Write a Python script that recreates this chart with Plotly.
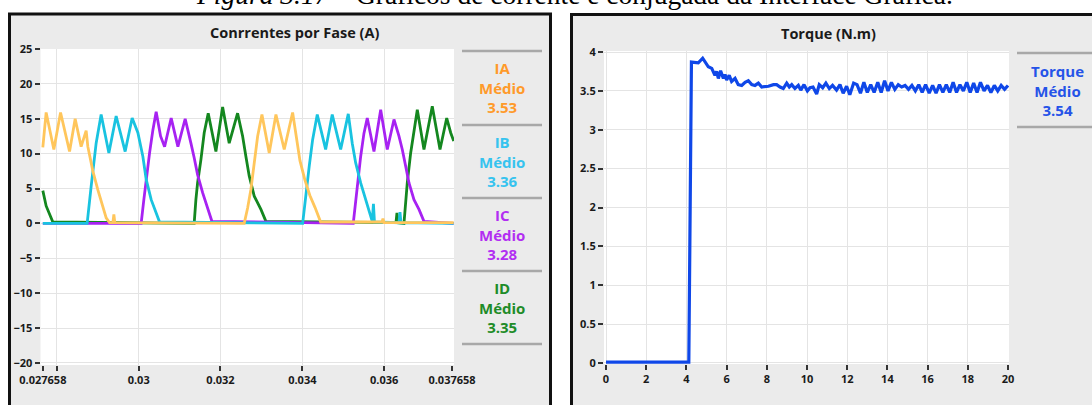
import plotly.graph_objects as go

# ---------------- data ----------------
ia_t = [0.027658, 0.027739, 0.027927, 0.028091, 0.028311, 0.028448, 0.028594, 0.028717, 0.028758,
        0.028881, 0.029003, 0.029101, 0.029206, 0.029289, 0.029370, 0.029394, 0.029418,
        0.032580, 0.032663, 0.032744, 0.032825, 0.032908, 0.033013, 0.033191, 0.033355, 0.033558,
        0.033763, 0.033844, 0.033942, 0.034064, 0.034185, 0.034309, 0.034448, 0.035947, 0.035971,
        0.035996, 0.037700]
ia_v = [10.9, 15.9, 10.6, 15.9, 10.3, 15.0, 11.0, 13.3, 11.0,
        7.5, 4.8, 3.0, 0.8, 0.1, 0.1, 1.3, 0.1,
        0.0, 2.2, 4.9, 8.5, 12.5, 15.6, 10.1, 15.6, 10.6,
        15.9, 12.5, 9.0, 6.2, 4.0, 2.3, 0.2, 0.2, 0.7,
        0.1, 0.1]

ib_t = [0.027658, 0.028741, 0.028839, 0.028961, 0.029083, 0.029272, 0.029450, 0.029670, 0.029841,
        0.029981, 0.030103, 0.030184, 0.030306, 0.030428, 0.030511,
        0.034008, 0.034088, 0.034169, 0.034252, 0.034365, 0.034570, 0.034731, 0.034937, 0.035123,
        0.035220, 0.035303, 0.035426, 0.035548, 0.035629, 0.035709, 0.035738, 0.035763,
        0.036362, 0.036387, 0.036411, 0.037700]
ib_v = [0.0, 0.0, 5.3, 11.5, 15.6, 10.1, 15.4, 10.3, 15.1,
        13.0, 9.6, 6.3, 3.4, 1.6, 0.2,
        0.0, 4.4, 8.2, 12.0, 15.6, 10.6, 15.6, 10.6, 15.7,
        11.5, 8.7, 5.8, 3.4, 1.8, 0.3, 2.8, 0.2,
        0.1, 1.6, 0.1, 0.0]

ic_t = [0.027658, 0.030061, 0.030127, 0.030184, 0.030267, 0.030348, 0.030428, 0.030536, 0.030634,
        0.030795, 0.030959, 0.031137, 0.031196, 0.031277, 0.031357, 0.031440, 0.031563, 0.031685,
        0.031790, 0.035245, 0.035303, 0.035360, 0.035426, 0.035506, 0.035587, 0.035751, 0.035915,
        0.036076, 0.036240, 0.036362, 0.036443, 0.036526, 0.036607, 0.036729, 0.036851, 0.036973,
        0.037700]
ic_v = [0.0, 0.0, 3.4, 6.3, 10.1, 13.4, 16.0, 12.5, 11.0,
        15.1, 11.0, 15.0, 13.7, 11.5, 9.4, 7.0, 4.4, 2.0,
        0.3, 0.0, 3.4, 6.3, 9.6, 12.9, 15.1, 10.3, 16.3,
        10.6, 14.9, 12.5, 10.6, 8.2, 5.8, 3.4, 2.0, 0.3,
        0.0]

id_t = [0.027658, 0.027739, 0.027903, 0.031357, 0.031399, 0.031440, 0.031521, 0.031602, 0.031700,
        0.031888, 0.032052, 0.032213, 0.032418, 0.032541, 0.032621, 0.032702, 0.032825, 0.032988,
        0.033110, 0.036289, 0.036313, 0.036338, 0.036484, 0.036526, 0.036565, 0.036648, 0.036729,
        0.036810, 0.036973, 0.037176, 0.037365, 0.037529, 0.037626, 0.037700]
id_v = [4.7, 2.5, 0.2, 0.0, 3.4, 5.8, 9.1, 13.0, 15.8,
        10.3, 16.7, 11.5, 15.8, 12.5, 9.6, 6.8, 3.9, 2.0,
        0.3, 0.1, 1.5, 0.1, 0.0, 3.4, 5.8, 10.1, 13.4,
        16.3, 10.6, 16.8, 10.6, 15.1, 13.0, 11.8]

torque_t = [0.0, 4.12, 4.25, 4.45, 4.59, 4.81, 4.93, 5.09, 5.26, 5.42, 5.5, 5.59, 5.70, 5.84,
            5.92, 6.0, 6.13, 6.25, 6.42, 6.58, 6.75, 6.92, 7.08, 7.25, 7.41, 7.58, 7.75, 7.91,
            8.08, 8.33, 8.49, 8.66, 8.82, 8.99, 9.12, 9.24, 9.4, 9.57, 9.69, 9.85, 10.02, 10.15,
            10.3, 10.48, 10.61, 10.78, 10.94, 11.11, 11.27, 11.47, 11.64, 11.8, 11.97, 12.13,
            12.32, 12.49, 12.66, 12.83, 13.0, 13.17, 13.34, 13.52, 13.69, 13.86, 14.03, 14.2,
            14.37, 14.54, 14.71, 14.88, 15.05, 15.22, 15.39, 15.56, 15.73, 15.9, 16.08, 16.25,
            16.42, 16.59, 16.76, 16.93, 17.1, 17.27, 17.44, 17.61, 17.78, 17.95, 18.12, 18.29,
            18.46, 18.63, 18.81, 18.98, 19.15, 19.32, 19.49, 19.66, 19.83, 20.0]
torque_v = [0.01, 0.01, 3.87, 3.86, 3.86, 3.92, 3.88, 3.81, 3.79, 3.70, 3.75, 3.66, 3.76, 3.66,
            3.71, 3.64, 3.70, 3.62, 3.66, 3.58, 3.57, 3.61, 3.63, 3.58, 3.57, 3.60, 3.55, 3.55,
            3.56, 3.58, 3.58, 3.55, 3.53, 3.60, 3.55, 3.58, 3.53, 3.57, 3.51, 3.58, 3.50, 3.54,
            3.55, 3.46, 3.58, 3.54, 3.60, 3.53, 3.57, 3.51, 3.58, 3.47, 3.56, 3.45,
            3.60, 3.58, 3.47, 3.61, 3.48, 3.58, 3.48, 3.61, 3.48, 3.63, 3.50, 3.61,
            3.52, 3.58, 3.55, 3.57, 3.52, 3.57, 3.50, 3.58, 3.48, 3.58, 3.47, 3.57,
            3.47, 3.58, 3.48, 3.58, 3.48, 3.61, 3.48, 3.58, 3.50, 3.61, 3.48, 3.60,
            3.48, 3.61, 3.50, 3.57, 3.48, 3.57, 3.50, 3.57, 3.52, 3.57]

cur_xticks = [0.027658, 0.028, 0.030, 0.032, 0.034, 0.036, 0.037658]
cur_xlabels = ["0.027658", "", "0.03", "0.032", "0.034", "0.036", "0.037658"]
cur_xgrid = [0.028, 0.030, 0.032, 0.034, 0.036]
cur_yticks = [25, 20, 15, 10, 5, 0, -5, -10, -15, -20]

legend_names = ["IA", "IB", "IC", "ID"]
legend_means = ["3.53", "3.36", "3.28", "3.35"]
torque_mean = "3.54"

# ---------------- styling ----------------
W, H = 1092, 405
def fx(px): return px / W
def fy(py): return 1 - py / H

line_cols = {"IA": "#FFC65C", "IB": "#19C3E0", "IC": "#A722F2", "ID": "#14871F"}
text_cols = {"IA": "#FF9A2A", "IB": "#36C3EF", "IC": "#B22EF2", "ID": "#1E8C28"}
TORQUE_COL = "#0F47E8"
TORQUE_TXT = "#2553E8"
GRID = "#e4e4e4"
FONT = "Open Sans"
tickfont = dict(family=FONT, size=11, color="#1a1a1a", weight="bold")

fig = go.Figure()
series = {"IA": (ia_t, ia_v), "IB": (ib_t, ib_v), "IC": (ic_t, ic_v), "ID": (id_t, id_v)}
for name in ["ID", "IC", "IB", "IA"]:
    t, v = series[name]
    fig.add_trace(go.Scatter(x=t, y=v, mode="lines", name=name,
                             line=dict(color=line_cols[name], width=2.8),
                             xaxis="x", yaxis="y", showlegend=False))
fig.add_trace(go.Scatter(x=torque_t, y=torque_v, mode="lines", name="Torque",
                         line=dict(color=TORQUE_COL, width=3.2),
                         xaxis="x2", yaxis="y2", showlegend=False))

common = dict(ticks="outside", ticklen=5, tickwidth=1.5, tickcolor="#333333",
              showline=False, zeroline=False, tickfont=tickfont)

fig.update_layout(
    autosize=True, margin=dict(l=0, r=0, t=0, b=0, autoexpand=False),
    paper_bgcolor="white", plot_bgcolor="rgba(0,0,0,0)",
    xaxis=dict(domain=[fx(40.5), fx(454)], range=[0.027601, 0.037707],
               tickmode="array", tickvals=cur_xticks, ticktext=cur_xlabels,
               showgrid=False, anchor="y",
               minor=dict(tickmode="array", tickvals=cur_xgrid, showgrid=True,
                          gridcolor=GRID, gridwidth=1, ticks=""), **common),
    yaxis=dict(domain=[fy(365), fy(49)], range=[-20.3, 25], anchor="x",
               tickmode="array", tickvals=cur_yticks, showgrid=True,
               gridcolor=GRID, gridwidth=1, **common),
    xaxis2=dict(domain=[fx(604), fx(1009)], range=[-0.1, 20.05], anchor="y2",
                dtick=2, tick0=0, showgrid=True, gridcolor=GRID, gridwidth=1, **common),
    yaxis2=dict(domain=[fy(364), fy(51)], range=[-0.013, 4.013], anchor="x2",
                dtick=0.5, tick0=0, showgrid=True, gridcolor=GRID, gridwidth=1, **common),
)

shapes = []
# panels
shapes.append(dict(type="rect", xref="paper", yref="paper", x0=fx(9.5), x1=fx(550.5),
                   y0=-0.1, y1=fy(14), line=dict(color="#111111", width=3),
                   fillcolor="#ebebeb", layer="below"))
shapes.append(dict(type="rect", xref="paper", yref="paper", x0=fx(571.5), x1=1.1,
                   y0=-0.1, y1=fy(14.5), line=dict(color="#111111", width=3),
                   fillcolor="#ebebeb", layer="below"))
# white plot areas
shapes.append(dict(type="rect", xref="paper", yref="paper", x0=fx(40.5), x1=fx(454),
                   y0=fy(365), y1=fy(49), line=dict(width=0), fillcolor="white", layer="below"))
shapes.append(dict(type="rect", xref="paper", yref="paper", x0=fx(604), x1=fx(1009),
                   y0=fy(364), y1=fy(51), line=dict(width=0), fillcolor="white", layer="below"))
# legend separators
for py in [51, 125, 198, 271, 344]:
    shapes.append(dict(type="line", xref="paper", yref="paper", x0=fx(462), x1=fx(542),
                       y0=fy(py), y1=fy(py), line=dict(color="#a8a8a8", width=2.5)))
for py in [53, 127]:
    shapes.append(dict(type="line", xref="paper", yref="paper", x0=fx(1017), x1=fx(1100),
                       y0=fy(py), y1=fy(py), line=dict(color="#a8a8a8", width=2.5)))

ann = []
ann.append(dict(text="<i>Figura 3.17</i> – Gráficos de corrente e conjugada da Interface Gráfica.",
                xref="paper", yref="paper", x=fx(574), y=fy(12.5), xanchor="center",
                yanchor="bottom", showarrow=False,
                font=dict(family="Liberation Serif", size=27.5, color="black")))
ann.append(dict(text="Conrrentes por Fase (A)", xref="paper", yref="paper", x=fx(295), y=fy(32),
                xanchor="center", yanchor="middle", showarrow=False,
                font=dict(family=FONT, size=14.5, color="#1a1a1a", weight="bold")))
ann.append(dict(text="Torque (N.m)", xref="paper", yref="paper", x=fx(828), y=fy(33),
                xanchor="center", yanchor="middle", showarrow=False,
                font=dict(family=FONT, size=14.5, color="#1a1a1a", weight="bold")))
for i, (nm, mv) in enumerate(zip(legend_names, legend_means)):
    cy = 88 + i * 73.3
    ann.append(dict(text=f"{nm}<br>Médio<br>{mv}", xref="paper", yref="paper",
                    x=fx(502), y=fy(cy), xanchor="center", yanchor="middle", showarrow=False,
                    font=dict(family=FONT, size=15, color=text_cols[nm], weight="bold")))
ann.append(dict(text=f"Torque<br>Médio<br>{torque_mean}", xref="paper", yref="paper",
                x=fx(1057), y=fy(90), xanchor="center", yanchor="middle", showarrow=False,
                font=dict(family=FONT, size=15, color=TORQUE_TXT, weight="bold")))

fig.update_layout(shapes=shapes, annotations=ann)

# The figure div is sized and pinned to the page's top-left corner in CSS,
# so the default body margin does not offset it.
fig.write_html("out.html", config={"displayModeBar": False},
               default_width=f"{W}px;position:absolute;left:0;top:0",
               default_height=f"{H}px")
